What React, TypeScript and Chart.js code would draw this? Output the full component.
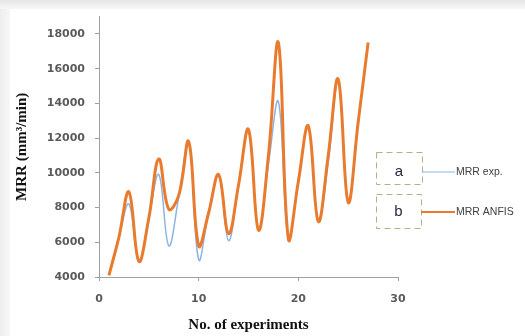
import React, { useEffect, useRef } from "react";
import { Chart, registerables } from "chart.js";

Chart.register(...registerables);

const experiments = [1, 2, 3, 4, 5, 6, 7, 8, 9, 10, 11, 12, 13, 14, 15, 16, 17, 18, 19, 20, 21, 22, 23, 24, 25, 26, 27];
const mrrExp = [4100, 6300, 8200, 4900, 7400, 9900, 5800, 8600, 11800, 5000, 7700, 9900, 6100, 9300, 12500, 6700, 10500, 14100, 6200, 9500, 12700, 7200, 10600, 15300, 8300, 12900, 17500];
const mrrAnfis = [4100, 6300, 8900, 4900, 7400, 10800, 7900, 8700, 11800, 5800, 7700, 9900, 6500, 9300, 12500, 6700, 11000, 17500, 6200, 9500, 12700, 7200, 11000, 15400, 8300, 12900, 17500];
const xTicks = [0, 10, 20, 30];
const yTicks = [4000, 6000, 8000, 10000, 12000, 14000, 16000, 18000];
const seriesNames = ["MRR exp.", "MRR ANFIS"];
const boxLetters = ["a", "b"];

const ORANGE = "#E97B2E";
const BLUE = "#8DB3E2";

const legendPlugin = {
  id: "customLegend",
  afterDraw(chart: any) {
    const ctx = chart.ctx;
    const boxes = [
      { x: 376, y: 152, w: 46, h: 32, ly: 172, color: BLUE, lw: 1 },
      { x: 376, y: 194, w: 45, h: 34, ly: 212, color: ORANGE, lw: 2 },
    ];
    ctx.save();
    boxes.forEach((b, i) => {
      ctx.setLineDash([6, 4]);
      ctx.strokeStyle = "#b0b089";
      ctx.lineWidth = 1;
      ctx.strokeRect(b.x + 0.5, b.y + 0.5, b.w, b.h);
      ctx.setLineDash([]);
      ctx.fillStyle = "#2b1f3a";
      ctx.font = "15px 'Liberation Sans', sans-serif";
      ctx.textAlign = "center";
      ctx.textBaseline = "middle";
      ctx.fillText(boxLetters[i], b.x + b.w / 2, b.ly);
      ctx.strokeStyle = b.color;
      ctx.lineWidth = b.lw;
      ctx.beginPath();
      ctx.moveTo(b.x + b.w, b.ly);
      ctx.lineTo(455, b.ly);
      ctx.stroke();
      ctx.fillStyle = "#404040";
      ctx.font = "10.5px 'Liberation Sans', sans-serif";
      ctx.textAlign = "left";
      ctx.fillText(seriesNames[i], 456, b.ly);
    });
    ctx.restore();
  },
};

export default function App() {
  const ref = useRef<HTMLCanvasElement | null>(null);
  useEffect(() => {
    if (!ref.current) return;
    const chart = new Chart(ref.current, {
      type: "line",
      data: {
        datasets: [
          {
            label: seriesNames[0],
            data: experiments.map((x, i) => ({ x, y: mrrExp[i] })),
            borderColor: BLUE,
            borderWidth: 1.5,
            pointRadius: 0,
            tension: 0.4,
            fill: false,
            order: 2,
          },
          {
            label: seriesNames[1],
            data: experiments.map((x, i) => ({ x, y: mrrAnfis[i] })),
            borderColor: ORANGE,
            borderWidth: 3,
            pointRadius: 0,
            tension: 0.4,
            fill: false,
            order: 1,
          },
        ],
      },
      options: {
        responsive: false,
        animation: false,
        layout: { padding: { left: 0, right: 127, top: 13, bottom: 0 } },
        plugins: { legend: { display: false }, tooltip: { enabled: false } },
        scales: {
          x: {
            type: "linear",
            min: 0,
            max: 30,
            afterBuildTicks: (s: any) => {
              s.ticks = xTicks.map((v) => ({ value: v }));
            },
            afterFit: (s: any) => {
              s.height = 59;
            },
            grid: { drawOnChartArea: false, drawTicks: true, tickLength: 4, color: "#a0a0a0" },
            border: { display: true, color: "#a0a0a0", width: 1 },
            ticks: {
              color: "#5a5a5a",
              font: { family: "'DejaVu Sans', sans-serif", size: 11, weight: "bold" },
              padding: 12,
              maxRotation: 0,
              callback: (v: any) => String(v),
            },
            title: {
              display: true,
              text: "No. of experiments",
              color: "#111",
              font: { family: "'Liberation Serif', serif", size: 15, weight: "bold" },
              padding: { top: 0, bottom: 2 },
            },
          },
          y: {
            type: "linear",
            min: 4000,
            max: 19000,
            afterBuildTicks: (s: any) => {
              s.ticks = yTicks.map((v) => ({ value: v }));
            },
            afterFit: (s: any) => {
              s.width = 99;
            },
            grid: { drawOnChartArea: false, drawTicks: true, tickLength: 4, color: "#a0a0a0" },
            border: { display: true, color: "#a0a0a0", width: 1 },
            ticks: {
              color: "#5a5a5a",
              font: { family: "'DejaVu Sans', sans-serif", size: 11, weight: "bold" },
              padding: 10,
              callback: (v: any) => String(v),
            },
            title: {
              display: true,
              text: "MRR (mm³/min)",
              color: "#111",
              font: { family: "'Liberation Serif', serif", size: 15, weight: "bold" },
              padding: { top: 13, bottom: 0 },
            },
          },
        },
      },
      plugins: [legendPlugin],
    } as any);
    return () => chart.destroy();
  }, []);

  return (
    <div style={{ position: "fixed", left: 0, top: 0, width: 525, height: 336, background: "#ffffff", overflow: "hidden" }}>
      <div style={{ position: "absolute", left: 0, top: 0, width: 525, height: 9, background: "linear-gradient(#e6e6e6, #f7f7f7)" }} />
      <div style={{ position: "absolute", left: 0, top: 9, width: 10, height: 327, background: "linear-gradient(90deg, #eeeeee, #f7f7f7)" }} />
      <canvas ref={ref} width={525} height={336} style={{ position: "absolute", left: 0, top: 0, width: 525, height: 336 }} />
    </div>
  );
}
